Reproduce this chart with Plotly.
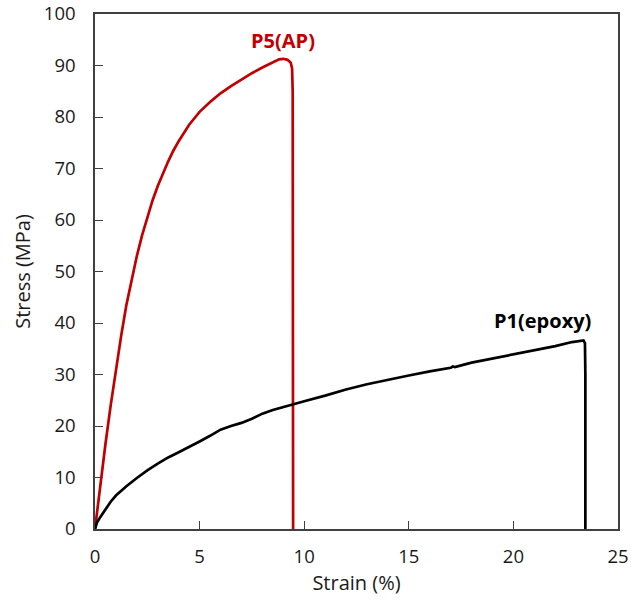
import plotly.graph_objects as go

# Tensile stress-strain curves
p5_strain = [0, 0.13, 0.25, 0.5, 0.75, 1.0, 1.25, 1.5, 1.75, 2.0, 2.25, 2.5, 2.75,
             3.0, 3.25, 3.5, 3.75, 4.0, 4.5, 5.0, 5.5, 6.0, 6.5, 7.0, 7.5, 8.0,
             8.5, 8.8, 9.0, 9.2, 9.35, 9.42, 9.45, 9.46, 9.47]
p5_stress = [0, 4.4, 8.5, 16.5, 24.0, 31.0, 37.5, 43.5, 48.5, 53.0, 57.0, 60.6, 63.8,
             66.6, 69.1, 71.4, 73.5, 75.3, 78.5, 81.0, 82.9, 84.6, 86.0, 87.3, 88.5, 89.6,
             90.6, 91.2, 91.3, 91.1, 90.6, 89.5, 85.0, 60.0, 0]

p1_strain = [0, 0.1, 0.25, 0.5, 0.75, 1.0, 1.5, 2.0, 2.5, 3.0, 3.5, 4.0, 4.5, 5.0,
             5.5, 6.0, 6.5, 7.0, 7.5, 8.0, 8.5, 9.0, 9.5, 10.0, 11.0, 12.0, 13.0,
             14.0, 15.0, 16.0, 17.0, 17.1, 17.2, 18.0, 19.0, 20.0, 21.0, 22.0, 22.8,
             23.2, 23.35, 23.42, 23.44, 23.44]
p1_stress = [0, 1.3, 2.3, 3.9, 5.3, 6.5, 8.3, 9.9, 11.4, 12.7, 13.9, 14.9, 15.9, 17.0,
             18.1, 19.3, 20.0, 20.6, 21.4, 22.4, 23.1, 23.7, 24.3, 24.8, 25.9, 27.1, 28.1,
             29.0, 29.8, 30.6, 31.3, 31.55, 31.45, 32.3, 33.1, 33.9, 34.7, 35.5, 36.3,
             36.6, 36.6, 36.1, 30.0, 0]

x_ticks = [0, 5, 10, 15, 20, 25]
y_ticks = [0, 10, 20, 30, 40, 50, 60, 70, 80, 90, 100]

RED = "#c00000"
AXIS = "#404040"
TEXT = "#1a1a1a"
FONT = "Open Sans"

fig = go.Figure()
fig.add_trace(go.Scatter(x=p5_strain, y=p5_stress, mode="lines",
                         line=dict(color=RED, width=2.7), name="P5(AP)"))
fig.add_trace(go.Scatter(x=p1_strain, y=p1_stress, mode="lines",
                         line=dict(color="black", width=2.7), name="P1(epoxy)"))

fig.add_annotation(x=9.0, y=94.8, text="<b>P5(AP)</b>", showarrow=False,
                   font=dict(family=FONT, size=20, color=RED))
fig.add_annotation(x=21.4, y=40.4, text="<b>P1(epoxy)</b>", showarrow=False,
                   font=dict(family=FONT, size=20, color="black"))

axis_common = dict(showgrid=False, zeroline=False, showline=True, mirror=True,
                   linecolor=AXIS, linewidth=1.5, ticks="inside", ticklen=8,
                   tickcolor=AXIS, tickwidth=1.3, automargin=False,
                   tickfont=dict(family=FONT, size=18.5, color=TEXT),
                   title_font=dict(family=FONT, size=20, color=TEXT))

fig.update_xaxes(range=[0, 25], tickvals=x_ticks, title_text="Strain (%)",
                 ticklabelstandoff=10, title_standoff=9, **axis_common)
fig.update_yaxes(range=[0, 100], tickvals=y_ticks, title_text="Stress (MPa)",
                 ticklabelstandoff=14, title_standoff=8, **axis_common)

fig.update_layout(width=631, height=606, showlegend=False,
                  plot_bgcolor="white", paper_bgcolor="white",
                  margin=dict(l=95, r=13, t=14, b=77))

fig.write_html("out.html")
